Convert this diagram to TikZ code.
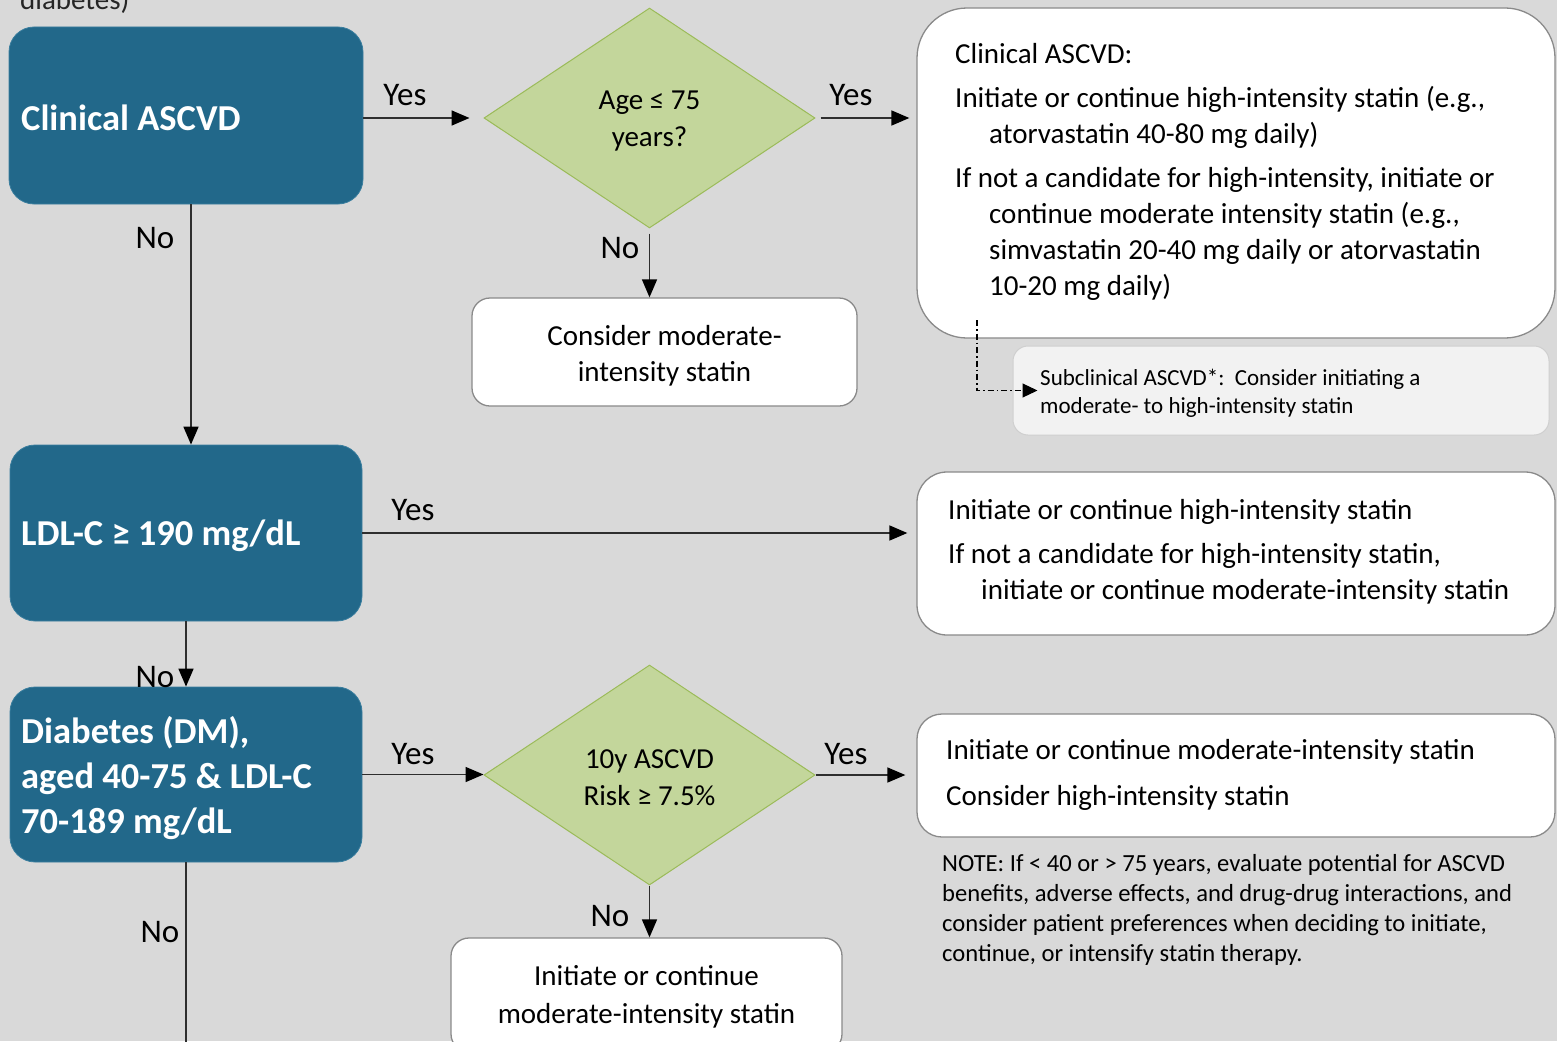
\documentclass[tikz,border=0pt]{standalone}
\usepackage{fontspec}
\setmainfont{Carlito}
\usetikzlibrary{shapes.geometric,arrows.meta}
\definecolor{bgc}{HTML}{D9D9D9}
\definecolor{dkblue}{HTML}{22688A}
\definecolor{blueedge}{HTML}{3A7E9E}
\definecolor{greenfill}{HTML}{C3D69B}
\definecolor{greenedge}{HTML}{9BBB59}
\definecolor{boxedge}{HTML}{8A8A8A}
\definecolor{subfill}{HTML}{F2F2F2}
\definecolor{subedge}{HTML}{CFCFCF}
\definecolor{linec}{HTML}{2E2E2E}
\tikzset{
  bluebox/.style={draw=blueedge, fill=dkblue, line width=0.8pt, rounded corners=25pt},
  bluetext/.style={anchor=west, text=white, align=left, inner sep=0pt,
    font=\bfseries\fontsize{36.5}{45}\selectfont},
  whitebox/.style={draw=boxedge, fill=white, line width=1.3pt},
  decision/.style={diamond, draw=greenedge, fill=greenfill, line width=1pt, inner sep=0pt,
    minimum width=331pt, minimum height=220pt},
  dectext/.style={align=center, inner sep=0pt, font=\fontsize{29}{37}\selectfont},
  bodytext/.style={align=left, inner sep=0pt, font=\fontsize{29}{36}\selectfont},
  conn/.style={draw=linec, line width=1.6pt, -{Triangle[length=18pt,width=15pt,color=black]}},
  plainline/.style={draw=linec, line width=1.6pt},
  ddconn/.style={draw=black, line width=1.1pt, dash pattern=on 6pt off 3pt on 1.5pt off 3pt,
    -{Triangle[length=15pt,width=14pt]}},
  lab/.style={inner sep=0pt, font=\fontsize{33}{33}\selectfont},
}
\begin{document}
\begin{tikzpicture}[x=1pt,y=-1pt]
\useasboundingbox (0,0) rectangle (1557,1041);
\clip (0,0) rectangle (1557,1041);
\fill[bgc] (0,0) rectangle (1557,1041);

% cut-off heading text
\node[anchor=base west, inner sep=0pt, text=black!85, font=\fontsize{29}{36}\selectfont] (head) at (20,10) {diabetes)};

% left column
\node[bluebox, minimum width=354pt, minimum height=177pt] (b1) at (186,115.5) {};
\node[bluetext] (b1t) at (21,118) {Clinical ASCVD};
\node[bluebox, minimum width=352pt, minimum height=176pt] (b2) at (186,533) {};
\node[bluetext] (b2t) at (21,535.5) {LDL-C ≥ 190 mg/dL};
\node[bluebox, minimum width=352pt, minimum height=175pt] (b3) at (186,774.5) {};
\node[bluetext] (b3t) at (21,778.5) {Diabetes (DM),\\aged 40-75 \& LDL-C\\70-189 mg/dL};

% decisions
\node[decision] (d1) at (649.5,118) {};
\node[dectext] (d1t) at (649.5,121) {Age ≤ 75\\years?};
\node[decision] (d2) at (649.5,775) {};
\node[dectext] (d2t) at (649.5,778) {10y ASCVD\\Risk ≥ 7.5\%};

% middle outcome boxes
\node[whitebox, rounded corners=18pt, minimum width=385pt, minimum height=108pt] (c1) at (664.5,352) {};
\node[align=center, inner sep=0pt, font=\fontsize{29}{36}\selectfont] (c1t) at (664.5,356) {Consider moderate-\\intensity statin};
\node[whitebox, rounded corners=18pt, minimum width=391pt, minimum height=114pt] (c2) at (646.5,995) {};
\node[align=center, inner sep=0pt, font=\fontsize{29}{38}\selectfont] (c2t) at (646.5,997) {Initiate or continue\\moderate-intensity statin};

% right outcome boxes
\node[whitebox, rounded corners=50pt, minimum width=638pt, minimum height=330pt] (r1) at (1236,173) {};
\node[bodytext, anchor=west] (r1t) at (955,172) {Clinical ASCVD:\\[8pt]
Initiate or continue high-intensity statin (e.g.,\\
\hspace*{34pt}atorvastatin 40-80 mg daily)\\[8pt]
If not a candidate for high-intensity, initiate or\\
\hspace*{34pt}continue moderate intensity statin (e.g.,\\
\hspace*{34pt}simvastatin 20-40 mg daily or atorvastatin\\
\hspace*{34pt}10-20 mg daily)};

\node[draw=subedge, fill=subfill, line width=1pt, rounded corners=15pt, minimum width=536pt, minimum height=89pt] (sub) at (1281,390.5) {};
\node[anchor=west, align=left, inner sep=0pt, font=\fontsize{23}{28}\selectfont] (subt) at (1040,393) {Subclinical ASCVD*:\ \ Consider initiating a\\moderate- to high-intensity statin};

\node[whitebox, rounded corners=30pt, minimum width=638pt, minimum height=163pt] (r2) at (1236,553.5) {};
\node[bodytext, anchor=west] (r2t) at (948,552) {Initiate or continue high-intensity statin\\[8pt]
If not a candidate for high-intensity statin,\\
\hspace*{33pt}initiate or continue moderate-intensity statin};

\node[whitebox, rounded corners=25pt, minimum width=638pt, minimum height=123pt] (r3) at (1236,775.5) {};
\node[bodytext, anchor=west, font=\fontsize{29}{46}\selectfont] (r3t) at (946,775) {Initiate or continue moderate-intensity statin\\
Consider high-intensity statin};

\node[anchor=north west, align=left, inner sep=0pt, font=\fontsize{24.6}{30}\selectfont] (note) at (942,854) {NOTE: If < 40 or > 75 years, evaluate potential for ASCVD\\
benefits, adverse effects, and drug-drug interactions, and\\
consider patient preferences when deciding to initiate,\\
continue, or intensify statin therapy.};

% connectors
\draw[conn] (b1.east |- d1.west) -- ([xshift=-14pt]d1.west);
\draw[conn] ([xshift=5pt]d1.east) -- ([xshift=-7pt]r1.west |- d1.east);
\draw[conn] ([yshift=-5pt]d1.south) -- (d1.south |- c1.north);
\draw[conn] ([xshift=5pt]b1.south) -- ([xshift=5pt]b2.north);
\draw[conn] (b2.east) -- ([xshift=-9pt]b2.east -| r2.west);
\draw[conn] (b2.south) -- (b3.north);
\draw[conn] (b3.east) -- (b3.east -| d2.west);
\draw[conn] (d2.east) -- ([xshift=-11pt]d2.east -| r3.west);
\draw[conn] (d2.south) -- (d2.south |- c2.north);
\coordinate (bend) at (186,1046);
\draw[plainline] (b3.south) -- (bend);
\coordinate (dd) at (977,320);
\draw[ddconn] (dd) |- ([xshift=25pt]sub.west);

% labels
\node[lab] (y1) at (405,95) {Yes};
\node[lab] (y2) at (851,95) {Yes};
\node[lab] (y3) at (413,510) {Yes};
\node[lab] (y4) at (413,754) {Yes};
\node[lab] (y5) at (846,754) {Yes};
\node[lab] (n1) at (155,238) {No};
\node[lab] (n2) at (620,248) {No};
\node[lab] (n3) at (155,677) {No};
\node[lab] (n4) at (160,932) {No};
\node[lab] (n5) at (610,916) {No};
\end{tikzpicture}
\end{document}
